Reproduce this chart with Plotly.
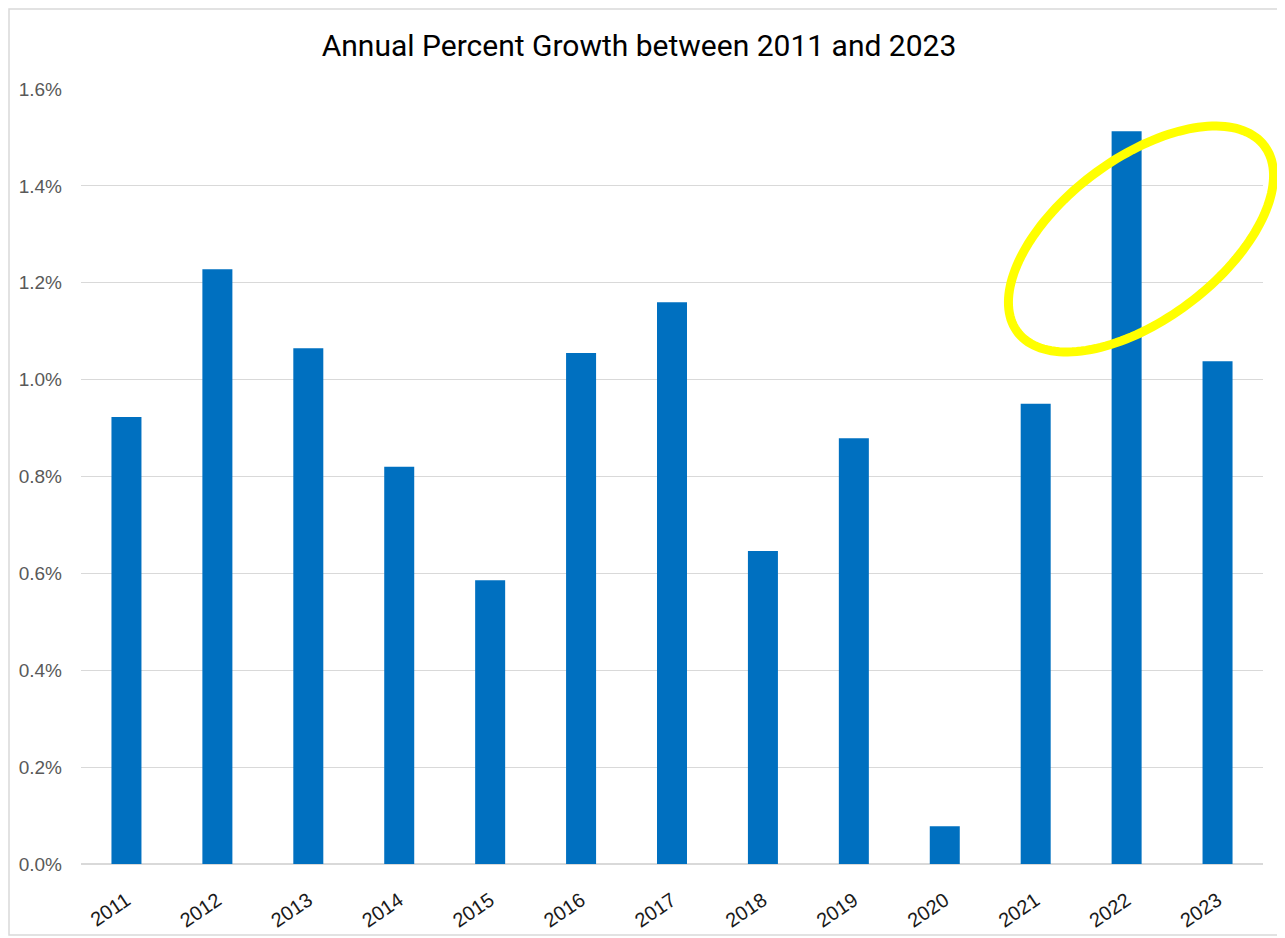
import numpy as np
import plotly.graph_objects as go

years = ["2011", "2012", "2013", "2014", "2015", "2016", "2017",
         "2018", "2019", "2020", "2021", "2022", "2023"]
growth_pct = [0.923, 1.228, 1.065, 0.820, 0.586, 1.055, 1.160,
              0.646, 0.879, 0.078, 0.950, 1.513, 1.038]
y_ticks = [0.0, 0.2, 0.4, 0.6, 0.8, 1.0, 1.2, 1.4, 1.6]
y_ticktext = [f"{v:.1f}%" for v in y_ticks]

# page body has an 8px margin; figure is placed at (8, 8) on screen
OFF = 8
W, H = 1285 - OFF, 938 - OFF
ML, MR, MT, MB = 81 - OFF, 22, 89 - OFF, 74
PW, PH = W - ML - MR, H - MT - MB


def to_paper(sx, sy):
    fx, fy = np.asarray(sx) - OFF, np.asarray(sy) - OFF
    return (fx - ML) / PW, 1 - (fy - MT) / PH


fig = go.Figure()
fig.add_trace(go.Bar(x=years, y=growth_pct, marker_color="#0070C0",
                     marker_line_width=0))

# highlight ellipse (screen-space geometry, converted to paper coords)
cx, cy, a, b, th = 1141, 239, 154.6, 80.2, np.deg2rad(37)
t = np.linspace(0, 2 * np.pi, 160)
px = cx + a * np.cos(th) * np.cos(t) - b * np.sin(th) * np.sin(t)
py = cy - a * np.sin(th) * np.cos(t) - b * np.cos(th) * np.sin(t)
xp, yp = to_paper(px, py)
path = "M " + " L ".join(f"{x:.5f},{y:.5f}" for x, y in zip(xp, yp)) + " Z"
fig.add_shape(type="path", path=path, xref="paper", yref="paper",
              line=dict(color="#FFFF00", width=9))

# outer border
bx0, by0 = to_paper(OFF + 1, OFF + 1)
bx1, by1 = to_paper(1282, 935)
fig.add_shape(type="rect", xref="paper", yref="paper",
              x0=bx0, x1=bx1, y0=by1, y1=by0,
              line=dict(color="#D9D9D9", width=1.5))

fig.update_layout(
    width=W, height=H,
    margin=dict(l=ML, r=MR, t=MT, b=MB),
    paper_bgcolor="white", plot_bgcolor="white",
    bargap=0.67,
    showlegend=False,
    title=dict(text="Annual Percent Growth between 2011 and 2023",
               x=(639 - OFF) / W, xanchor="center",
               y=1 - (45 - OFF) / H, yanchor="middle",
               font=dict(family="Roboto", size=30, color="#000000")),
    font=dict(family="Liberation Sans"),
)
fig.update_yaxes(range=[0, 1.6], tickmode="array", tickvals=y_ticks,
                 ticktext=y_ticktext, automargin=False,
                 showgrid=True, gridcolor="#D9D9D9",
                 gridwidth=1.3, zeroline=True, zerolinecolor="#D9D9D9",
                 zerolinewidth=1.5, ticks="", ticklabelstandoff=18,
                 tickfont=dict(size=19, color="#595959"), showline=False)
fig.update_xaxes(tickangle=-34, showgrid=False, ticks="", showline=False,
                 ticklabelstandoff=20, automargin=False,
                 tickfont=dict(size=20, color="#1A1A1A"))

fig.write_html("out.html")
